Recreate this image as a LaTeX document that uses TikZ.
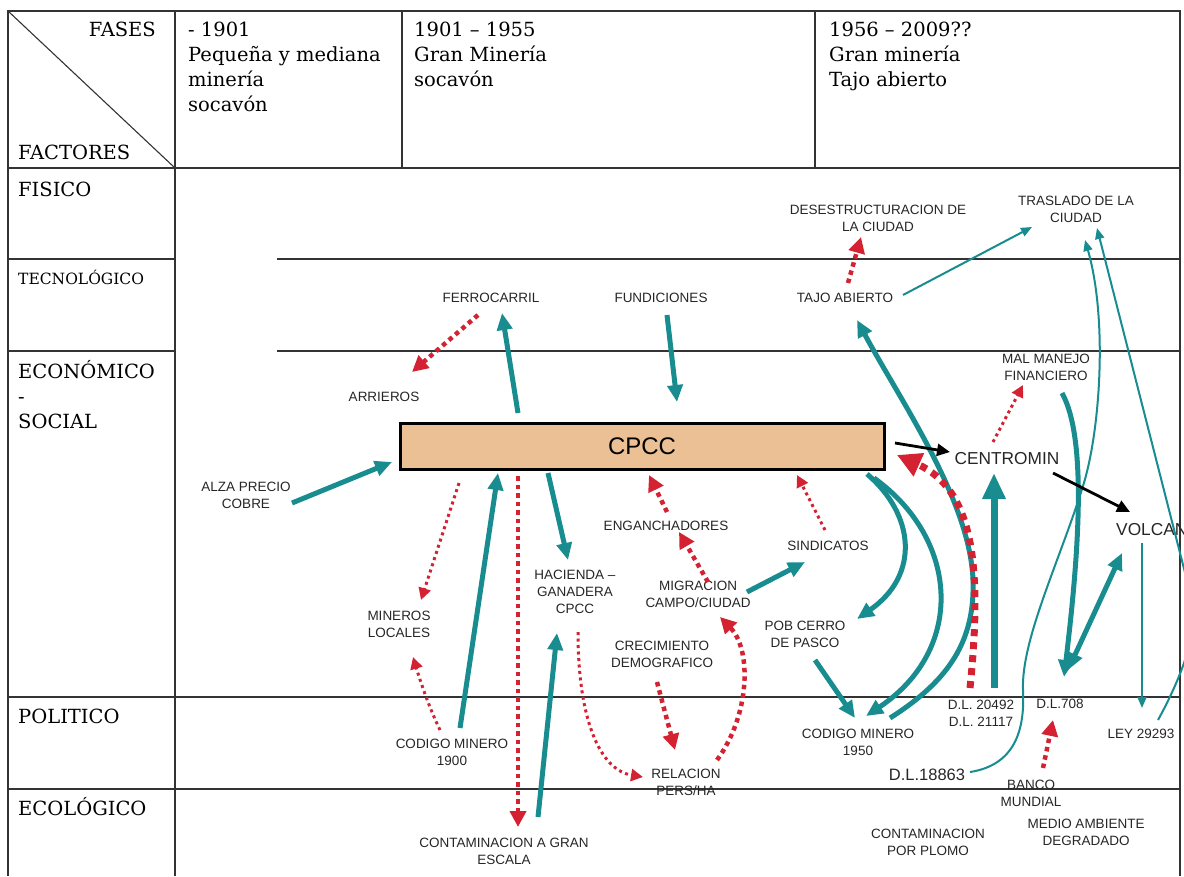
\documentclass[tikz,border=0pt]{standalone}
\usepackage{fontspec}
\setmainfont{DejaVu Serif}
\newfontfamily\labfont{Liberation Sans}
\usetikzlibrary{arrows.meta}
\definecolor{tealc}{RGB}{24,140,142}
\definecolor{redc}{RGB}{212,34,50}
\definecolor{cpccfill}{RGB}{234,192,148}
\begin{document}
\begin{tikzpicture}[x=1pt,y=-1pt,
  grid/.style={line width=1.1pt,draw=black!80},
  hdr/.style={font=\fontsize{19.5}{25}\selectfont,anchor=base west,inner sep=0pt},
  lbl/.style={font=\labfont\fontsize{13.5}{17}\selectfont,align=center,inner sep=0pt,text=black!85},
  big/.style={font=\labfont\fontsize{17.3}{20}\selectfont,inner sep=0pt,text=black!85},
  tk/.style={draw=tealc,line width=5pt,-{Triangle[length=17pt,width=15pt]}},
  tkx/.style={draw=tealc,line width=7pt,-{Triangle[length=26pt,width=22pt]}},
  tn/.style={draw=tealc,line width=2pt,-{Triangle[length=11pt,width=9pt]}},
  rdA/.style={draw=redc,line width=3pt,dash pattern=on 3pt off 3.5pt,-{Triangle[length=12pt,width=12pt]}},
  rdB/.style={draw=redc,line width=4.5pt,dash pattern=on 4.5pt off 4pt,-{Triangle[length=16pt,width=16pt]}},
  rdC/.style={draw=redc,line width=7pt,dash pattern=on 7pt off 6pt,-{Triangle[length=24pt,width=24pt]}},
  bk/.style={draw=black,line width=2.8pt,-{Triangle[length=13pt,width=12pt]}}
]
\useasboundingbox (0,0) rectangle (1184,876);
\clip (0,0) rectangle (1184,876);

% ---- table frame ----
\draw[grid] (8,876) -- (8,11) -- (1180,11) -- (1180,876);
\draw[grid] (8,168) -- (1180,168);
\draw[grid] (175,11) -- (175,876);
\draw[grid] (402,11) -- (402,168);
\draw[grid] (815,11) -- (815,168);
\draw[grid] (8,11) -- (175,168);
\draw[grid] (8,259) -- (175,259) (277,259) -- (1180,259);
\draw[grid] (8,351) -- (175,351) (277,351) -- (1180,351);
\draw[grid] (8,697) -- (1180,697);
\draw[grid] (8,789) -- (1180,789);

% ---- header ----
\node[hdr,anchor=base east] (fases) at (156,36) {FASES};
\node[hdr] (factores) at (18,159) {FACTORES};
\node[hdr] (c1a) at (188,36) {- 1901};
\node[hdr] (c1b) at (188,61) {Pequeña y mediana};
\node[hdr] (c1c) at (188,86) {minería};
\node[hdr] (c1d) at (188,111) {socavón};
\node[hdr] (c2a) at (414,36) {1901 – 1955};
\node[hdr] (c2b) at (414,61) {Gran Minería};
\node[hdr] (c2c) at (414,86) {socavón};
\node[hdr] (c3a) at (829,36) {1956 – 2009??};
\node[hdr] (c3b) at (829,61) {Gran minería};
\node[hdr] (c3c) at (829,86) {Tajo abierto};

% ---- factor rows ----
\node[hdr] (fisico) at (18,196) {FISICO};
\node[hdr,font=\fontsize{15.5}{20}\selectfont] (tecno) at (18,284) {TECNOLÓGICO};
\node[hdr] (econ) at (18,378) {ECONÓMICO};
\node[hdr] (guion) at (18,403) {-};
\node[hdr] (social) at (18,428) {SOCIAL};
\node[hdr] (politico) at (18,723) {POLITICO};
\node[hdr] (ecol) at (18,815) {ECOLÓGICO};

% ---- central company ----
\node[draw=black,line width=3pt,fill=cpccfill,minimum width=484pt,minimum height=46pt,
      inner sep=0pt,font=\labfont\fontsize{24}{26}\selectfont] (cpcc) at (642,446) {CPCC};

% ---- labels ----
\node[lbl] (alza) at (246,495) {ALZA PRECIO\\COBRE};
\node[lbl] (arrieros) at (384,397) {ARRIEROS};
\node[lbl] (ferro) at (491,298) {FERROCARRIL};
\node[lbl] (fund) at (661,298) {FUNDICIONES};
\node[lbl] (tajo) at (845,298) {TAJO ABIERTO};
\node[lbl] (desest) at (878,218) {DESESTRUCTURACION DE\\LA CIUDAD};
\node[lbl] (traslado) at (1076,209) {TRASLADO DE LA\\CIUDAD};
\node[lbl] (malmanejo) at (1046,367) {MAL MANEJO\\FINANCIERO};
\node[big] (centromin) at (1007,459) {CENTROMIN};
\node[big,anchor=west] (volcan) at (1116,530) {VOLCAN};
\node[lbl] (engan) at (666,526) {ENGANCHADORES};
\node[lbl] (sind) at (828,546) {SINDICATOS};
\node[lbl] (hacienda) at (575,592) {HACIENDA –\\GANADERA\\CPCC};
\node[lbl] (migra) at (698,594) {MIGRACION\\CAMPO/CIUDAD};
\node[lbl] (mineros) at (399,624) {MINEROS\\LOCALES};
\node[lbl] (crec) at (662,654) {CRECIMIENTO\\DEMOGRAFICO};
\node[lbl] (pob) at (805,634) {POB CERRO\\DE PASCO};
\node[lbl] (cm1900) at (452,752) {CODIGO MINERO\\1900};
\node[lbl] (relacion) at (686,782) {RELACION\\PERS/HA};
\node[lbl] (cm1950) at (858,742) {CODIGO MINERO\\1950};
\node[lbl] (dl20492) at (981,713) {D.L. 20492\\D.L. 21117};
\node[lbl] (dl708) at (1060,704) {D.L.708};
\node[lbl] (ley) at (1141,734) {LEY 29293};
\node[big,font=\labfont\fontsize{16.5}{20}\selectfont] (dl18863) at (927,775) {D.L.18863};
\node[lbl] (banco) at (1031,793) {BANCO\\MUNDIAL};
\node[lbl] (medio) at (1086,832) {MEDIO AMBIENTE\\DEGRADADO};
\node[lbl] (plomo) at (928,842) {CONTAMINACION\\POR PLOMO};
\node[lbl] (contgran) at (504,851) {CONTAMINACION A GRAN\\ESCALA};

% ---- connector end points ----
\coordinate (alzaE) at (292,503);   \coordinate (cpccW) at (392,462);
\coordinate (cpccF) at (518,413);   \coordinate (ferroS) at (502,313);
\coordinate (fundS) at (667,315);   \coordinate (cpccN) at (677,402);
\coordinate (cm1900N) at (460,728); \coordinate (cpccS1) at (498,473);
\coordinate (cpccS2) at (548,473);  \coordinate (haciN) at (568,560);
\coordinate (contN) at (538,817);   \coordinate (haciS) at (557,633);
\coordinate (migraE) at (747,592);  \coordinate (sindW) at (805,562);
\coordinate (pobS) at (815,660);    \coordinate (cm1950N) at (855,718);
\coordinate (dlN) at (994,688);     \coordinate (centroS) at (994,473);
\coordinate (dl708N) at (1068,670); \coordinate (volcanS) at (1122,553);
\coordinate (volcanB) at (1142,543);\coordinate (leyN) at (1142,708);
\coordinate (tajoE) at (903,295);   \coordinate (trasW) at (1032,227);
\coordinate (cpccSE) at (867,474);  \coordinate (pobNE) at (857,619);
\coordinate (cpccSE2) at (874,478); \coordinate (cm1950NW) at (866,716);
\coordinate (cm1950NE) at (890,718);\coordinate (tajoS) at (857,320);
\coordinate (malS) at (1062,393);   \coordinate (dl708T) at (1064,677);
\coordinate (dl18E) at (970,772);   \coordinate (trasS1) at (1085,240);
\coordinate (leyE) at (1158,720);   \coordinate (trasS2) at (1097,228);
\coordinate (ferroSW) at (478,315); \coordinate (arrNE) at (412,372);
\coordinate (tajoN) at (848,283);   \coordinate (desS) at (861,237);
\coordinate (cpccSW) at (459,483);  \coordinate (minN) at (421,600);
\coordinate (cm1900NW) at (440,730);\coordinate (minS) at (413,657);
\coordinate (cpccS3) at (518,476);  \coordinate (contgN) at (518,827);
\coordinate (haciS2) at (578,632);  \coordinate (relW) at (643,777);
\coordinate (migraN) at (708,582);  \coordinate (enganS) at (679,532);
\coordinate (enganN) at (667,512);  \coordinate (cpccS4) at (649,475);
\coordinate (sindN) at (825,530);   \coordinate (cpccS5) at (797,475);
\coordinate (crecS) at (657,682);   \coordinate (relN) at (675,750);
\coordinate (relNE) at (717,760);   \coordinate (migraS) at (720,617);
\coordinate (dlN2) at (970,688);    \coordinate (cpccE2) at (897,455);
\coordinate (centroN) at (993,442); \coordinate (malSW) at (1023,385);
\coordinate (bancoN) at (1043,768); \coordinate (dl708S) at (1053,720);
\coordinate (cpccE) at (895,443);   \coordinate (centroW) at (950,452);
\coordinate (centroE) at (1053,473);\coordinate (volcanW) at (1130,512);

% ---- teal links ----
\draw[tk] (alzaE) -- (cpccW);
\draw[tk] (cpccF) -- (ferroS);
\draw[tk] (fundS) -- (cpccN);
\draw[tk] (cm1900N) -- (cpccS1);
\draw[tk] (cpccS2) -- (haciN);
\draw[tk] (contN) -- (haciS);
\draw[tk] (migraE) -- (sindW);
\draw[tk] (pobS) -- (cm1950N);
\draw[tk] (cpccSE) .. controls (915,515) and (920,575) .. (pobNE);
\draw[tk] (cpccSE2) .. controls (960,540) and (965,650) .. (cm1950NW);
\draw[tk] (cm1950NE) .. controls (950,680) and (975,640) .. (973,580)
          .. controls (970,500) and (900,400) .. (tajoS);
\draw[tkx] (dlN) -- (centroS);
\draw[tk] (malS) .. controls (1088,440) and (1078,560) .. (dl708T);
\draw[tk,{Triangle[length=17pt,width=15pt]}-{Triangle[length=17pt,width=15pt]}] (dl708N) -- (volcanS);
\draw[tn] (volcanB) -- (leyN);
\draw[tn] (tajoE) -- (trasW);
\draw[tn] (dl18E) .. controls (1015,765) and (1025,730) .. (1023,690)
          .. controls (1021,640) and (1060,560) .. (1083,486)
          .. controls (1100,432) and (1108,320) .. (trasS1);
\draw[tn] (leyE) .. controls (1180,680) and (1200,630) .. (1192,600) -- (trasS2);

% ---- red dotted links ----
\draw[rdB] (ferroSW) -- (arrNE);
\draw[rdB] (tajoN) -- (desS);
\draw[rdA] (cpccSW) -- (minN);
\draw[rdA] (cm1900NW) .. controls (428,705) and (420,680) .. (minS);
\draw[rdB] (cpccS3) -- (contgN);
\draw[rdA] (haciS2) .. controls (578,720) and (600,770) .. (relW);
\draw[rdB] (migraN) -- (enganS);
\draw[rdB] (enganN) -- (cpccS4);
\draw[rdA] (sindN) -- (cpccS5);
\draw[rdB] (crecS) -- (relN);
\draw[rdB] (relNE) .. controls (750,715) and (752,650) .. (migraS);
\draw[rdC] (dlN2) .. controls (982,570) and (975,490) .. (cpccE2);
\draw[rdA] (centroN) -- (malSW);
\draw[rdB] (bancoN) -- (dl708S);

% ---- black links ----
\draw[bk] (cpccE) -- (centroW);
\draw[bk] (centroE) -- (volcanW);
\end{tikzpicture}
\end{document}
